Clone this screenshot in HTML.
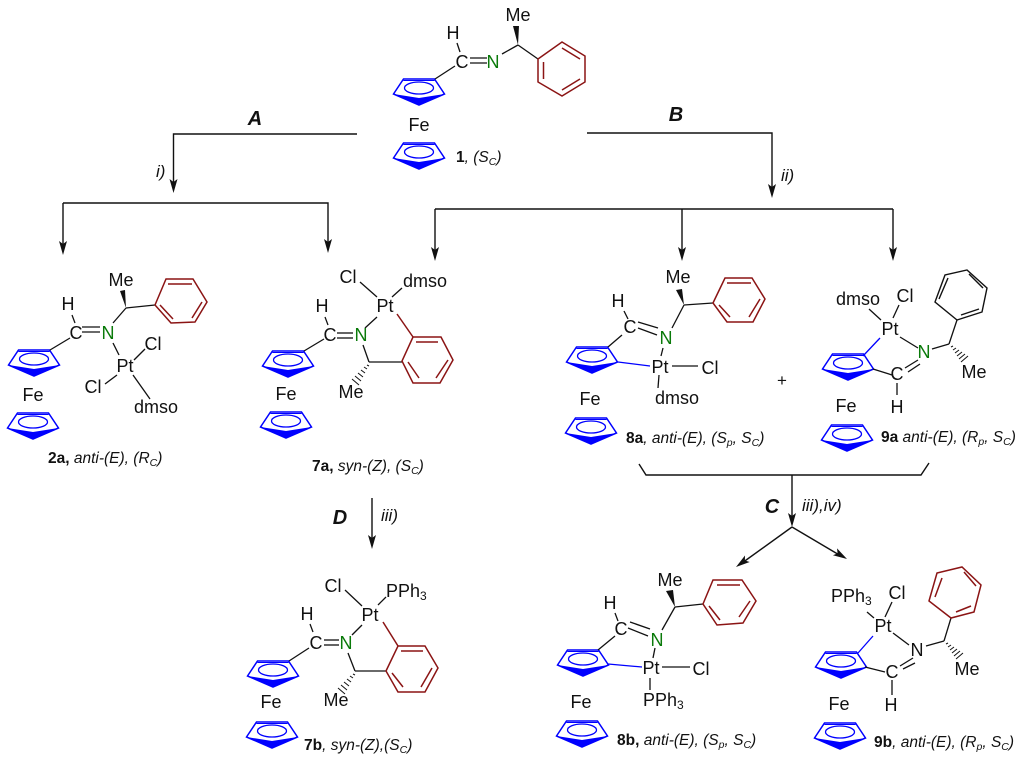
<!DOCTYPE html>
<html><head><meta charset="utf-8"><style>
html,body{margin:0;padding:0;background:#fff}
svg{display:block}
text{font-family:"Liberation Sans",sans-serif;font-size:18px;fill:#111}
.m{text-anchor:middle}
.g{fill:#0a7a0a}
.l{font-size:15.5px;font-style:italic}
.l .b{font-weight:bold;font-style:normal}
.l .s{font-size:10.5px}
.r{font-size:17px;font-style:italic}
.h{font-size:20px;font-weight:bold;font-style:italic;text-anchor:middle}
.sub{font-size:12px}
.k line,.k polyline{stroke:#111;stroke-width:1.3;fill:none}
.a line,.a polyline{stroke:#111;stroke-width:1.4;fill:none}
.ar polygon{fill:#111}
.d line,.d polygon{stroke:#8b1414;stroke-width:1.5;fill:none}
.bk line,.bk polygon{stroke:#111;stroke-width:1.4;fill:none}
.bl line{stroke:#0000ff;stroke-width:1.3}
.hs line{stroke:#111;stroke-width:1}
</style></head><body>
<svg width="1024" height="758" viewBox="0 0 1024 758" xmlns="http://www.w3.org/2000/svg">
<defs>
<g id="cp">
<polygon points="-25.5,4 -15.5,-11 15.5,-11 25.5,4 0,15" fill="none" stroke="#0000ff" stroke-width="1.5"/>
<polygon points="-25.5,4 0,8 25.5,4 0,15" fill="#0000ff"/>
<line x1="-15.5" y1="-9.5" x2="15.5" y2="-9.5" stroke="#0000ff" stroke-width="1"/>
<ellipse cx="0" cy="-2" rx="14.5" ry="6" fill="none" stroke="#0000ff" stroke-width="1.3"/>
</g>
<g id="ah"><polygon points="0,0 -4,-14 0,-11 4,-14" fill="#111"/></g>
</defs>

<!-- Cp rings -->
<use href="#cp" x="419" y="90"/><use href="#cp" x="419" y="154"/>
<use href="#cp" x="34" y="361"/><use href="#cp" x="33" y="424"/>
<use href="#cp" x="288" y="362"/><use href="#cp" x="286" y="423"/>
<use href="#cp" x="592" y="358"/><use href="#cp" x="591" y="429"/>
<use href="#cp" x="848" y="365"/><use href="#cp" x="847" y="436"/>
<use href="#cp" x="273" y="672"/><use href="#cp" x="272" y="733"/>
<use href="#cp" x="583" y="661"/><use href="#cp" x="582" y="732"/>
<use href="#cp" x="841" y="663"/><use href="#cp" x="840" y="734"/>

<!-- Reaction arrows -->
<g class="a">
<polyline points="357,134 173.5,134 173.5,182"/>
<polyline points="63,203 328,203 328,242"/><line x1="63" y1="203" x2="63" y2="244"/>
<polyline points="587,133 772,133 772,190"/>
<line x1="435" y1="209" x2="893" y2="209"/>
<line x1="435" y1="209" x2="435" y2="250"/><line x1="682" y1="209" x2="682" y2="250"/><line x1="893" y1="209" x2="893" y2="250"/>
<line x1="372" y1="498" x2="372" y2="540"/>
<polyline points="639,464 646,475 921,475 929,463"/>
<line x1="792" y1="475" x2="792" y2="520"/>
<line x1="792" y1="527" x2="742" y2="563"/><line x1="792" y1="527" x2="841" y2="556"/>
</g>
<use href="#ah" x="173.5" y="193"/><use href="#ah" x="328" y="253"/><use href="#ah" x="63" y="255"/>
<use href="#ah" x="772" y="198"/><use href="#ah" x="435" y="261"/><use href="#ah" x="682" y="261"/><use href="#ah" x="893" y="261"/>
<use href="#ah" x="372" y="549"/><use href="#ah" x="792" y="527"/>
<use href="#ah" transform="translate(736,567) rotate(54)"/><use href="#ah" transform="translate(847,559) rotate(-59)"/>

<text class="h" x="255" y="125">A</text><text class="h" x="676" y="121">B</text>
<text class="h" x="772" y="513">C</text><text class="h" x="340" y="524">D</text>
<text class="r" x="156" y="177">i)</text><text class="r" x="781" y="181">ii)</text>
<text class="r" x="381" y="521">iii)</text><text class="r" x="802" y="511">iii),iv)</text>
<text x="777" y="386" style="font-size:17px">+</text>

<!-- Compound 1 -->
<g class="k">
<line x1="457" y1="43" x2="460" y2="52"/><line x1="470" y1="58" x2="487" y2="58"/><line x1="470" y1="63" x2="487" y2="63"/>
<line x1="435" y1="79" x2="455" y2="66"/><line x1="502" y1="54" x2="518" y2="45"/><line x1="518" y1="45" x2="538" y2="59"/>
</g>
<polygon points="518,45 513,26 519,26" fill="#111"/>
<g class="d"><polygon points="538,59 562,42 585,56 585,82 562,96 538,82"/>
<line x1="543.5" y1="62" x2="543.5" y2="79"/><line x1="562" y1="48" x2="580" y2="59"/><line x1="580" y1="79" x2="562" y2="90"/></g>
<text class="m" x="518" y="21">Me</text><text class="m" x="453" y="39">H</text><text class="m" x="462" y="68">C</text><text class="m g" x="493" y="68">N</text>
<text class="m" x="419" y="131">Fe</text>
<text class="l" x="456" y="162"><tspan class="b">1</tspan>, (S<tspan class="s" dy="3">C</tspan><tspan dy="-3">)</tspan></text>

<!-- 2a -->
<g class="k">
<line x1="72" y1="315" x2="75" y2="323"/><line x1="82" y1="327" x2="100" y2="327"/><line x1="82" y1="332" x2="100" y2="332"/>
<line x1="50" y1="350" x2="70" y2="338"/><line x1="113" y1="323" x2="126" y2="308"/><line x1="126" y1="308" x2="155" y2="305"/>
<line x1="113" y1="343" x2="119" y2="355"/><line x1="134" y1="360" x2="145" y2="349"/><line x1="117" y1="375" x2="105" y2="384"/><line x1="133" y1="375" x2="150" y2="399"/>
</g>
<polygon points="126,308 120,291 125,290" fill="#111"/>
<g class="d"><polygon points="155,305 166,279 193,279 207,302 195,322 171,323"/>
<line x1="168" y1="284" x2="192" y2="284"/><line x1="202" y1="302" x2="192" y2="318"/><line x1="160" y1="305" x2="173" y2="319"/></g>
<text class="m" x="121" y="286">Me</text><text class="m" x="68" y="310">H</text><text class="m" x="76" y="339">C</text><text class="m g" x="108" y="339">N</text>
<text class="m" x="125" y="372">Pt</text><text class="m" x="153" y="350">Cl</text><text class="m" x="93" y="393">Cl</text><text class="m" x="156" y="413">dmso</text>
<text class="m" x="33" y="401">Fe</text>
<text class="l" x="48" y="463"><tspan class="b">2a,</tspan> anti-(E), (R<tspan class="s" dy="3">C</tspan><tspan dy="-3">)</tspan></text>

<!-- 7a -->
<g class="k">
<line x1="360" y1="282" x2="377" y2="297"/><line x1="392" y1="297" x2="402" y2="288"/><line x1="377" y1="317" x2="365" y2="328"/>
<line x1="325" y1="317" x2="328" y2="325"/><line x1="337" y1="333" x2="353" y2="333"/><line x1="337" y1="338" x2="353" y2="338"/>
<line x1="304" y1="351" x2="324" y2="339"/><line x1="363" y1="345" x2="369" y2="362"/><line x1="369" y1="362" x2="402" y2="362"/>
</g>
<g class="d"><line x1="397" y1="314" x2="413" y2="337"/><polygon points="402,361 413,337 441,337 453,360 440,383 413,383"/>
<line x1="416" y1="342" x2="438" y2="342"/><line x1="448" y1="360" x2="436" y2="378"/><line x1="408" y1="362" x2="419" y2="378"/></g>
<g class="hs"><line x1="367" y1="365" x2="369" y2="366"/><line x1="364" y1="367" x2="367" y2="369"/><line x1="361" y1="370" x2="365" y2="373"/><line x1="358" y1="373" x2="363" y2="377"/><line x1="355" y1="376" x2="361" y2="381"/><line x1="352" y1="379" x2="359" y2="385"/></g>
<text class="m" x="348" y="283">Cl</text><text class="m" x="425" y="287">dmso</text><text class="m" x="385" y="312">Pt</text>
<text class="m" x="322" y="312">H</text><text class="m" x="330" y="341">C</text><text class="m g" x="361" y="341">N</text><text class="m" x="351" y="398">Me</text>
<text class="m" x="286" y="400">Fe</text>
<text class="l" x="312" y="471"><tspan class="b">7a,</tspan> syn-(Z), (S<tspan class="s" dy="3">C</tspan><tspan dy="-3">)</tspan></text>

<!-- 8a -->
<g class="k">
<line x1="624" y1="311" x2="628" y2="319"/><line x1="638" y1="322" x2="658" y2="328"/><line x1="638" y1="328" x2="657" y2="335"/>
<line x1="672" y1="328" x2="684" y2="305"/><line x1="684" y1="305" x2="713" y2="303"/><line x1="608" y1="347" x2="622" y2="335"/>
<line x1="663" y1="348" x2="661" y2="356"/><line x1="672" y1="366" x2="698" y2="366"/><line x1="659" y1="375" x2="658" y2="388"/>
</g>
<polygon points="684,305 676,290 682,289" fill="#111"/>
<g class="d"><polygon points="713,303 725,278 752,278 765,299 753,322 727,322"/>
<line x1="727" y1="283" x2="751" y2="283"/><line x1="760" y1="299" x2="749" y2="317"/><line x1="719" y1="305" x2="730" y2="317"/></g>
<g class="bl"><line x1="618" y1="362" x2="650" y2="366"/></g>
<text class="m" x="678" y="283">Me</text><text class="m" x="618" y="307">H</text><text class="m" x="630" y="333">C</text><text class="m g" x="666" y="344">N</text>
<text class="m" x="660" y="373">Pt</text><text class="m" x="710" y="374">Cl</text><text class="m" x="677" y="404">dmso</text>
<text class="m" x="590" y="405">Fe</text>
<text class="l" x="626" y="443"><tspan class="b">8a</tspan>, anti-(E), (S<tspan class="s" dy="3">p</tspan><tspan dy="-3">, S</tspan><tspan class="s" dy="3">C</tspan><tspan dy="-3">)</tspan></text>

<!-- 9a -->
<g class="k">
<line x1="869" y1="309" x2="881" y2="320"/><line x1="899" y1="305" x2="893" y2="318"/><line x1="900" y1="337" x2="918" y2="348"/>
<line x1="932" y1="349" x2="949" y2="344"/><line x1="949" y1="344" x2="957" y2="320"/>
<line x1="905" y1="368" x2="918" y2="360"/><line x1="908" y1="372" x2="920" y2="364"/>
<line x1="873" y1="369" x2="892" y2="375"/><line x1="897" y1="383" x2="897" y2="395"/>
</g>
<g class="bl"><line x1="880" y1="338" x2="863" y2="356"/></g>
<g class="bk"><polygon points="957,320 935,302 945,275 967,270 987,288 982,312"/>
<line x1="939" y1="299" x2="948" y2="278"/><line x1="969" y1="274" x2="983" y2="288"/><line x1="961" y1="315" x2="979" y2="309"/></g>
<g class="hs"><line x1="951" y1="347" x2="953" y2="346"/><line x1="953" y1="350" x2="956" y2="348"/><line x1="955" y1="353" x2="959" y2="350"/><line x1="957" y1="356" x2="962" y2="352"/><line x1="959" y1="359" x2="965" y2="354"/><line x1="961" y1="362" x2="968" y2="356"/></g>
<text class="m" x="858" y="305">dmso</text><text class="m" x="905" y="302">Cl</text><text class="m" x="890" y="335">Pt</text><text class="m g" x="924" y="358">N</text>
<text class="m" x="897" y="380">C</text><text class="m" x="897" y="413">H</text><text class="m" x="974" y="378">Me</text><text class="m" x="846" y="412">Fe</text>
<text class="l" x="881" y="442"><tspan class="b">9a</tspan> anti-(E), (R<tspan class="s" dy="3">p</tspan><tspan dy="-3">, S</tspan><tspan class="s" dy="3">C</tspan><tspan dy="-3">)</tspan></text>

<!-- 7b -->
<g class="k">
<line x1="345" y1="590" x2="362" y2="606"/><line x1="378" y1="605" x2="386" y2="597"/><line x1="362" y1="625" x2="352" y2="635"/>
<line x1="310" y1="624" x2="313" y2="632"/><line x1="324" y1="640" x2="339" y2="640"/><line x1="324" y1="645" x2="339" y2="645"/>
<line x1="289" y1="661" x2="309" y2="648"/><line x1="348" y1="653" x2="355" y2="671"/><line x1="355" y1="671" x2="386" y2="671"/>
</g>
<g class="d"><line x1="383" y1="622" x2="398" y2="646"/><polygon points="386,671 398,646 425,646 438,668 425,692 398,692"/>
<line x1="401" y1="651" x2="423" y2="651"/><line x1="432" y1="668" x2="421" y2="687"/><line x1="392" y1="673" x2="403" y2="687"/></g>
<g class="hs"><line x1="353" y1="674" x2="355" y2="675"/><line x1="350" y1="676" x2="353" y2="678"/><line x1="347" y1="679" x2="351" y2="682"/><line x1="344" y1="682" x2="349" y2="686"/><line x1="341" y1="685" x2="347" y2="690"/><line x1="338" y1="688" x2="345" y2="694"/></g>
<text class="m" x="333" y="592">Cl</text><text x="386" y="597">PPh<tspan class="sub" dy="3">3</tspan></text><text class="m" x="370" y="621">Pt</text>
<text class="m" x="307" y="620">H</text><text class="m" x="316" y="649">C</text><text class="m g" x="346" y="649">N</text><text class="m" x="336" y="706">Me</text><text class="m" x="271" y="708">Fe</text>
<text class="l" x="304" y="750"><tspan class="b">7b</tspan>, syn-(Z),(S<tspan class="s" dy="3">C</tspan><tspan dy="-3">)</tspan></text>

<!-- 8b -->
<g class="k">
<line x1="615" y1="613" x2="618" y2="621"/><line x1="630" y1="622" x2="650" y2="629"/><line x1="628" y1="628" x2="648" y2="636"/>
<line x1="662" y1="630" x2="675" y2="607"/><line x1="675" y1="607" x2="703" y2="604"/><line x1="598" y1="650" x2="615" y2="636"/>
<line x1="655" y1="648" x2="653" y2="658"/><line x1="662" y1="667" x2="690" y2="667"/><line x1="650" y1="678" x2="650" y2="690"/>
</g>
<polygon points="675,607 666,591 673,590" fill="#111"/>
<g class="d"><polygon points="703,604 713,580 742,580 756,601 743,623 717,625"/>
<line x1="717" y1="585" x2="740" y2="585"/><line x1="750" y1="601" x2="739" y2="617"/><line x1="709" y1="606" x2="720" y2="620"/></g>
<g class="bl"><line x1="608" y1="664" x2="642" y2="667"/></g>
<text class="m" x="670" y="586">Me</text><text class="m" x="610" y="609">H</text><text class="m" x="621" y="635">C</text><text class="m g" x="657" y="646">N</text>
<text class="m" x="651" y="674">Pt</text><text class="m" x="701" y="675">Cl</text><text x="643" y="706">PPh<tspan class="sub" dy="3">3</tspan></text><text class="m" x="581" y="708">Fe</text>
<text class="l" x="617" y="745"><tspan class="b">8b,</tspan> anti-(E), (S<tspan class="s" dy="3">p</tspan><tspan dy="-3">, S</tspan><tspan class="s" dy="3">C</tspan><tspan dy="-3">)</tspan></text>

<!-- 9b -->
<g class="k">
<line x1="867" y1="612" x2="874" y2="618"/><line x1="892" y1="602" x2="885" y2="617"/><line x1="893" y1="633" x2="909" y2="645"/>
<line x1="926" y1="646" x2="944" y2="641"/><line x1="944" y1="641" x2="951" y2="618"/>
<line x1="900" y1="666" x2="913" y2="658"/><line x1="903" y1="669" x2="915" y2="663"/>
<line x1="865" y1="667" x2="885" y2="672"/><line x1="892" y1="680" x2="892" y2="695"/>
</g>
<g class="bl"><line x1="873" y1="636" x2="858" y2="653"/></g>
<g class="d"><polygon points="951,618 929,601 937,573 962,567 981,585 974,612"/>
<line x1="935" y1="597" x2="942" y2="578"/><line x1="964" y1="572" x2="976" y2="586"/><line x1="956" y1="612" x2="971" y2="606"/></g>
<g class="hs"><line x1="946" y1="644" x2="948" y2="643"/><line x1="948" y1="647" x2="951" y2="645"/><line x1="950" y1="650" x2="954" y2="647"/><line x1="952" y1="653" x2="957" y2="649"/><line x1="954" y1="656" x2="960" y2="651"/><line x1="956" y1="659" x2="963" y2="653"/></g>
<text x="831" y="602">PPh<tspan class="sub" dy="3">3</tspan></text><text class="m" x="897" y="599">Cl</text><text class="m" x="883" y="632">Pt</text><text class="m" x="917" y="656">N</text>
<text class="m" x="892" y="678">C</text><text class="m" x="891" y="711">H</text><text class="m" x="967" y="675">Me</text><text class="m" x="839" y="710">Fe</text>
<text class="l" x="874" y="747"><tspan class="b">9b</tspan>, anti-(E), (R<tspan class="s" dy="3">p</tspan><tspan dy="-3">, S</tspan><tspan class="s" dy="3">C</tspan><tspan dy="-3">)</tspan></text>
</svg>
</body></html>
